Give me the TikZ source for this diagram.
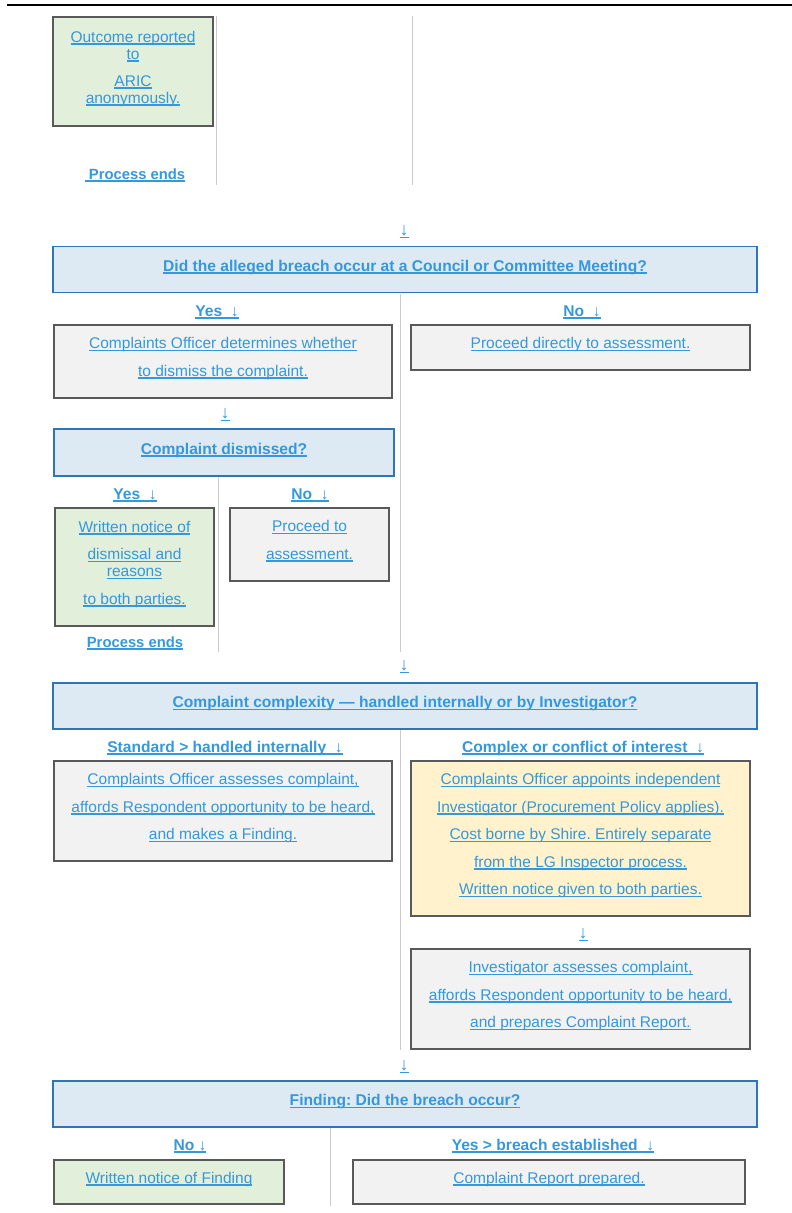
\documentclass[tikz,border=0pt]{standalone}
\usepackage{fontspec}
\setmainfont{Liberation Sans}
\frenchspacing

\definecolor{linkblue}{HTML}{3498DB}
\definecolor{qfill}{HTML}{DEEAF3}
\definecolor{qedge}{HTML}{2E75B6}
\definecolor{greenfill}{HTML}{E2EFDA}
\definecolor{greyfill}{HTML}{F2F2F2}
\definecolor{yellowfill}{HTML}{FFF2CC}
\definecolor{boxedge}{HTML}{595959}
\definecolor{dividergrey}{HTML}{CCCCCC}

\newcommand{\lnk}[1]{\leavevmode\setbox0=\hbox{#1}\rlap{\color{linkblue}\rule[-2.6pt]{\wd0}{1.5pt}}\box0}

\begin{document}
\begin{tikzpicture}[x=1pt, y=-1pt,
  txt/.style={text=linkblue, font=\fontsize{15.5}{17}\selectfont, align=center, inner sep=0pt},
  arrowtxt/.style={txt, font=\fontsize{18}{17}\selectfont},
  bold/.style={txt, font=\fontsize{15.6}{17}\selectfont\bfseries},
  ends/.style={txt, font=\fontsize{14.8}{17}\selectfont\bfseries},
  box/.style={txt, draw=boxedge, line width=1.8pt, text depth=9pt},
  greenbox/.style={box, fill=greenfill},
  greybox/.style={box, fill=greyfill},
  yellowbox/.style={box, fill=yellowfill},
  question/.style={bold, draw=qedge, fill=qfill, line width=1.8pt, minimum width=704pt, minimum height=46pt, text depth=8pt},
  divider/.style={draw=dividergrey, line width=0.9pt}]

\useasboundingbox (0,0) rectangle (792,1213);
\draw[line width=1.2pt] (7,5) -- (792,5);

% first part: anonymous outcome
\node (outcome) at (133,71.5) [greenbox, minimum width=160pt, minimum height=109pt]
  {\lnk{Outcome reported}\\\lnk{to}\\[10pt]\lnk{ARIC}\\\lnk{anonymously.}};
\node (ends1) at (135,175) [ends] {\lnk{ Process ends}};

\coordinate (d1top) at (216,16);  \coordinate (d1bot) at (216,185);
\coordinate (d2top) at (412,16);  \coordinate (d2bot) at (412,185);
\draw[divider] (d1top) -- (d1bot);
\draw[divider] (d2top) -- (d2bot);

% meeting question
\node (arr1) at (404,232) [arrowtxt] {\lnk{↓}};
\node (q1) at (405,269.5) [question] {\lnk{Did the alleged breach occur at a Council or Committee Meeting?}};
\node (yes1) at (217,312) [bold] {\lnk{Yes\ \ \mdseries↓}};
\node (no1) at (582,312) [bold] {\lnk{No\ \ \mdseries↓}};
\node (determine) at (223,361.5) [greybox, minimum width=338pt, minimum height=73pt]
  {\lnk{Complaints Officer determines whether}\\[10.5pt]\lnk{to dismiss the complaint.}};
\node (direct) at (580.5,347.5) [greybox, minimum width=339pt, minimum height=45pt]
  {\lnk{Proceed directly to assessment.}};

% dismissed?
\node (arr2) at (225,415) [arrowtxt] {\lnk{↓}};
\node (q2) at (224,452.5) [question, minimum width=340pt, minimum height=47pt] {\lnk{Complaint dismissed?}};
\node (yes2) at (135,495) [bold] {\lnk{Yes\ \ \mdseries↓}};
\node (no2) at (310,495) [bold] {\lnk{No\ \ \mdseries↓}};
\node (dismissnote) at (134.5,567) [greenbox, minimum width=159pt, minimum height=118pt]
  {\lnk{Written notice of}\\[10.5pt]\lnk{dismissal and}\\\lnk{reasons}\\[10.5pt]\lnk{to both parties.}};
\node (proceed) at (309.5,544.5) [greybox, minimum width=159pt, minimum height=73pt]
  {\lnk{Proceed to}\\[10.5pt]\lnk{assessment.}};
\node (ends2) at (135,643) [ends] {\lnk{Process ends}};

\coordinate (d3top) at (400,294);  \coordinate (d3bot) at (400,652);
\coordinate (d4top) at (218,477);  \coordinate (d4bot) at (218,652);
\draw[divider] (d3top) -- (d3bot);
\draw[divider] (d4top) -- (d4bot);

% complexity
\node (arr3) at (404,667) [arrowtxt] {\lnk{↓}};
\node (q3) at (405,706) [question] {\lnk{Complaint complexity --- handled internally or by Investigator?}};
\node (standard) at (225,748) [bold] {\lnk{Standard > handled internally\ \ \mdseries↓}};
\node (complex) at (583,748) [bold] {\lnk{Complex or conflict of interest\ \ \mdseries↓}};
\node (internal) at (223,811) [greybox, minimum width=338pt, minimum height=100pt]
  {\lnk{Complaints Officer assesses complaint,}\\[10.5pt]\lnk{affords Respondent opportunity to be heard,}\\[10.5pt]\lnk{and makes a Finding.}};
\node (appoint) at (580.5,838.5) [yellowbox, minimum width=339pt, minimum height=155pt]
  {\lnk{Complaints Officer appoints independent}\\[10.5pt]\lnk{Investigator (Procurement Policy applies).}\\[10.5pt]\lnk{Cost borne by Shire. Entirely separate}\\[10.5pt]\lnk{from the LG Inspector process.}\\[10.5pt]\lnk{Written notice given to both parties.}};
\node (arr4) at (583,935) [arrowtxt] {\lnk{↓}};
\node (investigate) at (580.5,999) [greybox, minimum width=339pt, minimum height=100pt]
  {\lnk{Investigator assesses complaint,}\\[10.5pt]\lnk{affords Respondent opportunity to be heard,}\\[10.5pt]\lnk{and prepares Complaint Report.}};

\coordinate (d5top) at (400,730);  \coordinate (d5bot) at (400,1050);
\draw[divider] (d5top) -- (d5bot);

% finding
\node (arr5) at (404,1067) [arrowtxt] {\lnk{↓}};
\node (q4) at (405,1104) [question] {\lnk{Finding: Did the breach occur?}};
\node (no4) at (190,1146) [bold] {\lnk{No \mdseries↓}};
\node (yes4) at (553,1146) [bold] {\lnk{Yes > breach established\ \ \mdseries↓}};
\node (findnote) at (169,1182) [greenbox, minimum width=230pt, minimum height=44pt]
  {\lnk{Written notice of Finding}};
\node (report) at (549,1182) [greybox, minimum width=392pt, minimum height=44pt]
  {\lnk{Complaint Report prepared.}};

\coordinate (d6top) at (330,1128);  \coordinate (d6bot) at (330,1206);
\draw[divider] (d6top) -- (d6bot);

\end{tikzpicture}
\end{document}
